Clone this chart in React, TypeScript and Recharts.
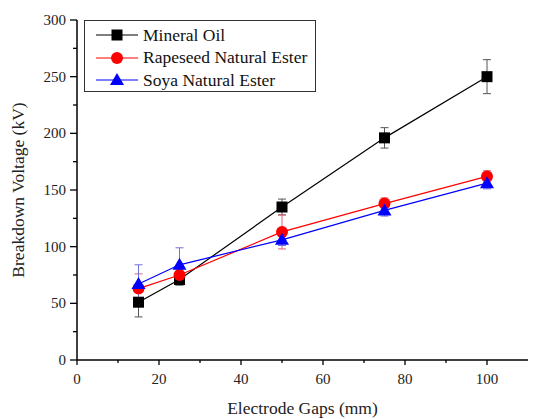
import * as React from 'react'
import { ErrorBar, Label, Legend, Line, LineChart, XAxis, YAxis } from 'recharts'

const gaps = [15, 25, 50, 75, 100]
const mineralOil = [51, 71, 135, 196, 250]
const mineralErr = [13, 5, 7, 9, 15]
const rapeseed = [63, 75, 113, 138, 162]
const rapeseedErr = [13, 5, 15, 5, 5]
const soya = [67, 84, 106, 132, 156]
const soyaErr = [17, 15, 5, 5, 5]

const xTicks = [0, 10, 20, 30, 40, 50, 60, 70, 80, 90, 100]
const yTicks = [0, 25, 50, 75, 100, 125, 150, 175, 200, 225, 250, 275, 300]

const FONT = '"Liberation Serif", "Times New Roman", serif'

type Shape = 'square' | 'circle' | 'triangle'

const SERIES: { key: string; name: string; color: string; errColor: string; shape: Shape }[] = [
  { key: 'mineral', name: 'Mineral Oil', color: '#000000', errColor: '#555555', shape: 'square' },
  { key: 'rapeseed', name: 'Rapeseed Natural Ester', color: '#ff0000', errColor: '#e06070', shape: 'circle' },
  { key: 'soya', name: 'Soya Natural Ester', color: '#0000ff', errColor: '#7070e0', shape: 'triangle' },
]

const rows = gaps.map((gap, i) => ({
  gap,
  mineral: mineralOil[i],
  mineralErr: mineralErr[i],
  rapeseed: rapeseed[i],
  rapeseedErr: rapeseedErr[i],
  soya: soya[i],
  soyaErr: soyaErr[i],
}))

function Marker({ cx, cy, shape, color }: { cx: number; cy: number; shape: Shape; color: string }) {
  if (cx == null || cy == null) return null
  if (shape === 'square') return <rect x={cx - 5.5} y={cy - 5.5} width={11} height={11} fill={color} />
  if (shape === 'circle') return <circle cx={cx} cy={cy} r={6} fill={color} />
  return <polygon points={`${cx},${cy - 7} ${cx - 7},${cy + 5} ${cx + 7},${cy + 5}`} fill={color} />
}

function XTick({ x, y, payload }: any) {
  const major = payload.value % 20 === 0
  return (
    <g>
      <line x1={x} y1={y} x2={x} y2={y + (major ? 5 : 3)} stroke="#000" strokeWidth={1.3} />
      {major && (
        <text x={x} y={y + 24} textAnchor="middle" fontSize={15} fontFamily={FONT} fill="#222">
          {payload.value}
        </text>
      )}
    </g>
  )
}

function YTick({ x, y, payload }: any) {
  const major = payload.value % 50 === 0
  return (
    <g>
      <line x1={x - (major ? 7 : 4)} y1={y} x2={x} y2={y} stroke="#000" strokeWidth={1.3} />
      {major && (
        <text x={x - 11} y={y + 5} textAnchor="end" fontSize={15} fontFamily={FONT} fill="#222">
          {payload.value}
        </text>
      )}
    </g>
  )
}

function LegendBox() {
  return (
    <div
      style={{
        border: '1px solid #333',
        background: '#fff',
        boxSizing: 'border-box',
        width: 232,
        height: 72,
        padding: '3px 0 0 11px',
        fontFamily: FONT,
        fontSize: 17.5,
        color: '#111',
      }}
    >
      {SERIES.map((s) => (
        <div key={s.key} style={{ display: 'flex', alignItems: 'center', height: 22.5 }}>
          <svg width={42} height={16} style={{ marginRight: 5 }}>
            <line x1={0} y1={8} x2={42} y2={8} stroke={s.color} strokeWidth={1.2} />
            <Marker cx={21} cy={8} shape={s.shape} color={s.color} />
          </svg>
          <span>{s.name}</span>
        </div>
      ))}
    </div>
  )
}

export default function App() {
  return (
    <div style={{ position: 'absolute', left: 0, top: 0, background: '#fff' }}>
      <LineChart width={534} height={419} data={rows} margin={{ top: 20, right: 6, bottom: 0, left: 0 }}>
        <XAxis
          dataKey="gap"
          type="number"
          domain={[0, 110]}
          ticks={xTicks}
          interval={0}
          tick={<XTick />}
          tickSize={0}
          tickMargin={0}
          tickLine={false}
          height={59}
          axisLine={{ stroke: '#000', strokeWidth: 1.5 }}
        >
          <Label
            value="Electrode Gaps (mm)"
            position="insideBottom"
            offset={5}
            style={{ fontFamily: FONT, fontSize: 17.5, fill: '#222' }}
          />
        </XAxis>
        <YAxis
          type="number"
          domain={[0, 300]}
          ticks={yTicks}
          interval={0}
          tick={<YTick />}
          tickSize={0}
          tickMargin={0}
          tickLine={false}
          width={77}
          axisLine={{ stroke: '#000', strokeWidth: 1.5 }}
        >
          <Label
            value="Breakdown Voltage (kV)"
            angle={-90}
            position="insideLeft"
            offset={18}
            style={{ fontFamily: FONT, fontSize: 17.5, fill: '#222', textAnchor: 'middle' }}
          />
        </YAxis>
        <Legend
          layout="vertical"
          align="center"
          verticalAlign="middle"
          wrapperStyle={{ left: 84, top: 20, width: 232, height: 72 }}
          content={() => <LegendBox />}
        />
        {SERIES.map((s) => (
          <Line
            key={s.key}
            dataKey={s.key}
            name={s.name}
            stroke={s.color}
            strokeWidth={1.2}
            isAnimationActive={false}
            dot={(p: any) => <Marker key={`${s.key}-${p.index}`} cx={p.cx} cy={p.cy} shape={s.shape} color={s.color} />}
          >
            <ErrorBar dataKey={`${s.key}Err`} direction="y" width={4} stroke={s.errColor} strokeWidth={1} />
          </Line>
        ))}
      </LineChart>
    </div>
  )
}
